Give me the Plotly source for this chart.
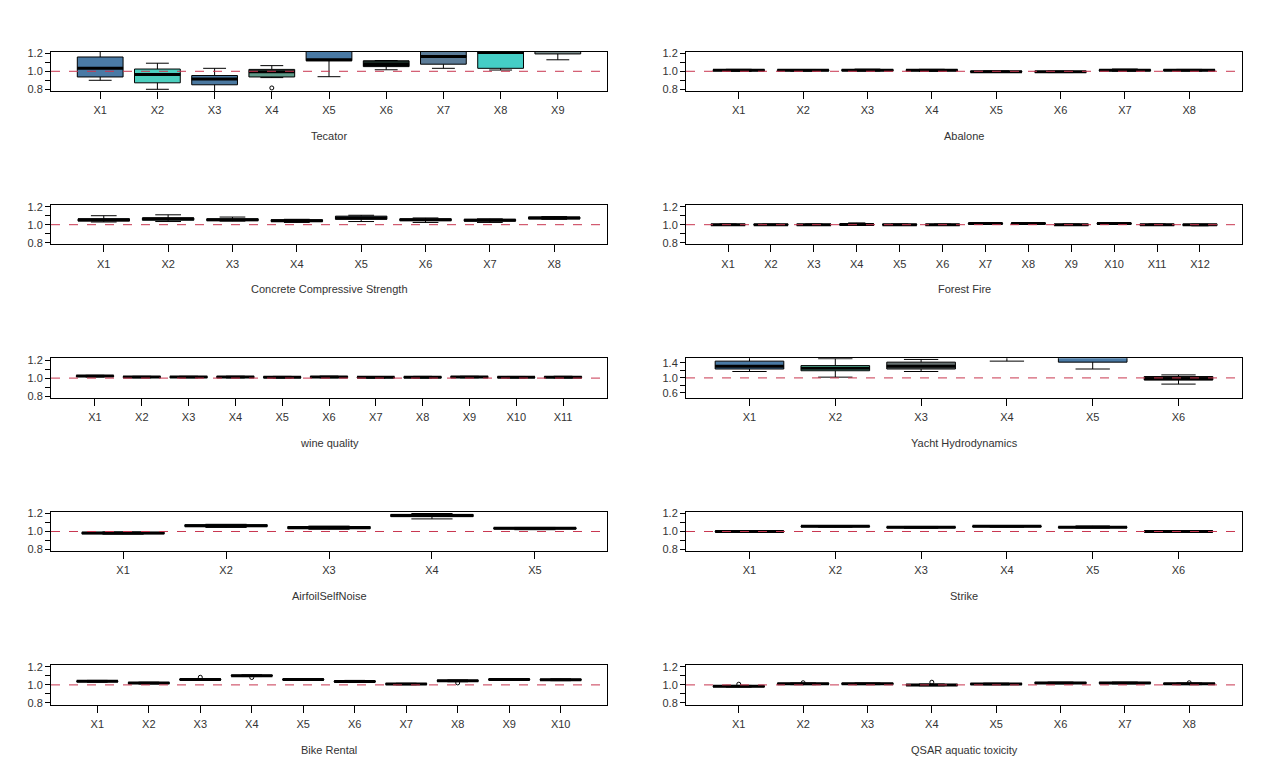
import plotly.graph_objects as go

# ---------------- data ----------------
TEC_LOW  = [0.900, 0.800, 0.760, 0.930, 0.940, 1.017, 1.033, 1.014, 1.128]
TEC_Q1   = [0.937, 0.872, 0.850, 0.937, 1.117, 1.052, 1.079, 1.033, 1.193]
TEC_MED  = [1.035, 0.964, 0.915, 0.995, 1.128, 1.075, 1.165, 1.210, 1.230]
TEC_Q3   = [1.159, 1.025, 0.953, 1.021, 1.350, 1.117, 1.250, 1.350, 1.300]
TEC_HIGH = [1.250, 1.090, 1.033, 1.063, 1.500, 1.120, 1.400, 1.500, 1.400]
TEC_OUT  = [(4, 0.815)]
TEC_COL  = ["#4A7AA5", "#4CCFBE", "#4A78A0", "#5E9A88", "#4A7AA5",
            "#1A2A24", "#5C7C98", "#45CEC6", "#7A8A8A"]

ABA_LOW  = [1.000, 1.002, 1.003, 1.000, 0.988, 0.986, 1.002, 1.003]
ABA_Q1   = [1.006, 1.006, 1.007, 1.006, 0.991, 0.990, 1.006, 1.007]
ABA_MED  = [1.012, 1.012, 1.012, 1.012, 0.996, 0.995, 1.012, 1.012]
ABA_Q3   = [1.017, 1.016, 1.018, 1.017, 1.001, 0.999, 1.017, 1.017]
ABA_HIGH = [1.022, 1.020, 1.024, 1.022, 1.005, 1.003, 1.025, 1.021]

CON_LOW  = [1.030, 1.035, 1.040, 1.025, 1.035, 1.025, 1.025, 1.060]
CON_Q1   = [1.040, 1.050, 1.045, 1.035, 1.060, 1.045, 1.040, 1.065]
CON_MED  = [1.055, 1.065, 1.055, 1.045, 1.075, 1.055, 1.050, 1.075]
CON_Q3   = [1.065, 1.075, 1.065, 1.055, 1.095, 1.065, 1.060, 1.085]
CON_HIGH = [1.100, 1.110, 1.085, 1.060, 1.105, 1.075, 1.065, 1.090]

FOR_LOW  = [0.992, 0.993, 0.992, 0.993, 0.993, 0.993, 1.003, 1.004, 0.992, 1.002, 0.992, 0.988]
FOR_Q1   = [0.996, 0.996, 0.995, 0.996, 0.996, 0.996, 1.007, 1.008, 0.995, 1.007, 0.995, 0.993]
FOR_MED  = [1.000, 1.000, 1.000, 1.001, 1.000, 1.000, 1.012, 1.013, 1.000, 1.012, 1.000, 0.998]
FOR_Q3   = [1.004, 1.004, 1.004, 1.005, 1.004, 1.004, 1.017, 1.018, 1.004, 1.016, 1.004, 1.003]
FOR_HIGH = [1.008, 1.007, 1.008, 1.020, 1.008, 1.007, 1.021, 1.022, 1.008, 1.020, 1.008, 1.006]

WIN_LOW  = [1.012, 1.003, 1.003, 1.002, 1.001, 1.003, 1.000, 1.001, 1.003, 1.002, 1.002]
WIN_Q1   = [1.017, 1.007, 1.007, 1.007, 1.005, 1.007, 1.004, 1.005, 1.007, 1.006, 1.006]
WIN_MED  = [1.022, 1.012, 1.012, 1.012, 1.010, 1.012, 1.008, 1.010, 1.012, 1.010, 1.010]
WIN_Q3   = [1.027, 1.016, 1.016, 1.017, 1.015, 1.017, 1.013, 1.015, 1.016, 1.014, 1.015]
WIN_HIGH = [1.031, 1.020, 1.020, 1.021, 1.019, 1.022, 1.017, 1.019, 1.020, 1.018, 1.020]

YAC_LOW  = [1.170, 1.020, 1.170, 1.445, 1.236, 0.836]
YAC_Q1   = [1.236, 1.190, 1.236, 1.600, 1.418, 0.945]
YAC_MED  = [1.310, 1.255, 1.310, 1.700, 1.600, 0.980]
YAC_Q3   = [1.445, 1.327, 1.418, 1.800, 1.800, 1.036]
YAC_HIGH = [1.600, 1.510, 1.490, 1.900, 1.900, 1.080]
YAC_COL  = ["#4A7AA5", "#5CC8A8", "#667070", "#4A7AA5", "#4A7AA5", "#3A1A1A"]

AIR_LOW  = [0.970, 1.045, 1.025, 1.140, 1.020]
AIR_Q1   = [0.975, 1.055, 1.030, 1.165, 1.028]
AIR_MED  = [0.982, 1.065, 1.045, 1.178, 1.035]
AIR_Q3   = [0.990, 1.075, 1.055, 1.190, 1.042]
AIR_HIGH = [0.995, 1.080, 1.060, 1.200, 1.045]

STR_LOW  = [0.990, 1.048, 1.036, 1.048, 1.038, 0.990]
STR_Q1   = [0.995, 1.052, 1.041, 1.052, 1.042, 0.995]
STR_MED  = [1.000, 1.057, 1.047, 1.057, 1.047, 1.000]
STR_Q3   = [1.006, 1.062, 1.052, 1.062, 1.052, 1.006]
STR_HIGH = [1.010, 1.066, 1.056, 1.066, 1.062, 1.010]

BIK_LOW  = [1.030, 1.010, 1.050, 1.093, 1.050, 1.027, 1.002, 1.035, 1.050, 1.047]
BIK_Q1   = [1.035, 1.015, 1.055, 1.098, 1.055, 1.032, 1.006, 1.040, 1.055, 1.052]
BIK_MED  = [1.040, 1.020, 1.060, 1.103, 1.060, 1.038, 1.010, 1.045, 1.060, 1.058]
BIK_Q3   = [1.045, 1.026, 1.065, 1.108, 1.065, 1.044, 1.014, 1.050, 1.065, 1.063]
BIK_HIGH = [1.050, 1.030, 1.070, 1.112, 1.070, 1.050, 1.018, 1.055, 1.070, 1.068]
BIK_OUT  = [(3, 1.085), (4, 1.082), (8, 1.022)]

QSA_LOW  = [0.976, 1.003, 1.003, 0.990, 1.001, 1.012, 1.012, 1.003]
QSA_Q1   = [0.980, 1.007, 1.007, 0.995, 1.005, 1.017, 1.017, 1.007]
QSA_MED  = [0.985, 1.012, 1.012, 1.000, 1.010, 1.022, 1.022, 1.012]
QSA_Q3   = [0.990, 1.017, 1.017, 1.005, 1.015, 1.027, 1.027, 1.017]
QSA_HIGH = [0.994, 1.021, 1.021, 1.010, 1.019, 1.031, 1.031, 1.021]
QSA_OUT  = [(1, 1.008), (2, 1.024), (4, 1.030), (8, 1.024)]

DEFAULT_COL = ["#4A7AA5", "#4CCFBE", "#5E9A88", "#1A2A24", "#5C7C98", "#7A8A8A"]

STD_RANGE = (0.78, 1.22)
STD_TICKS = [0.8, 0.9, 1.0, 1.1, 1.2]
STD_TEXT = ["0.8", "", "1.0", "", "1.2"]
YAC_RANGE = (0.47, 1.52)
YAC_TICKS = [0.6, 0.8, 1.0, 1.2, 1.4]
YAC_TEXT = ["0.6", "", "1.0", "", "1.4"]

PANELS = [
    ("Tecator", TEC_LOW, TEC_Q1, TEC_MED, TEC_Q3, TEC_HIGH, TEC_COL, TEC_OUT, STD_RANGE, STD_TICKS, STD_TEXT),
    ("Abalone", ABA_LOW, ABA_Q1, ABA_MED, ABA_Q3, ABA_HIGH, None, [], STD_RANGE, STD_TICKS, STD_TEXT),
    ("Concrete Compressive Strength", CON_LOW, CON_Q1, CON_MED, CON_Q3, CON_HIGH, None, [], STD_RANGE, STD_TICKS, STD_TEXT),
    ("Forest Fire", FOR_LOW, FOR_Q1, FOR_MED, FOR_Q3, FOR_HIGH, None, [], STD_RANGE, STD_TICKS, STD_TEXT),
    ("wine quality", WIN_LOW, WIN_Q1, WIN_MED, WIN_Q3, WIN_HIGH, None, [], STD_RANGE, STD_TICKS, STD_TEXT),
    ("Yacht Hydrodynamics", YAC_LOW, YAC_Q1, YAC_MED, YAC_Q3, YAC_HIGH, YAC_COL, [], YAC_RANGE, YAC_TICKS, YAC_TEXT),
    ("AirfoilSelfNoise", AIR_LOW, AIR_Q1, AIR_MED, AIR_Q3, AIR_HIGH, None, [], STD_RANGE, STD_TICKS, STD_TEXT),
    ("Strike", STR_LOW, STR_Q1, STR_MED, STR_Q3, STR_HIGH, None, [], STD_RANGE, STD_TICKS, STD_TEXT),
    ("Bike Rental", BIK_LOW, BIK_Q1, BIK_MED, BIK_Q3, BIK_HIGH, None, BIK_OUT, STD_RANGE, STD_TICKS, STD_TEXT),
    ("QSAR aquatic toxicity", QSA_LOW, QSA_Q1, QSA_MED, QSA_Q3, QSA_HIGH, None, QSA_OUT, STD_RANGE, STD_TICKS, STD_TEXT),
]

# ---------------- layout geometry ----------------
W, H = 1269, 775
COL_X = [(51, 607), (686, 1242)]
ROW_TOP0, ROW_H, ROW_STEP = 48, 40, 155
FONT = "Liberation Sans, Arial, sans-serif"
TXT = "#333333"

fig = go.Figure()
layout = {}
annotations = []
shapes = []

for k, (title, low, q1, med, q3, high, cols, outs, yr, yt, ytt) in enumerate(PANELS):
    row, col = divmod(k, 2)
    ax = k + 1
    xn = "x" if ax == 1 else f"x{ax}"
    yn = "y" if ax == 1 else f"y{ax}"
    n = len(med)
    xs = list(range(1, n + 1))
    cols = cols if cols is not None else [DEFAULT_COL[i % len(DEFAULT_COL)] for i in range(n)]

    for i in range(n):
        fig.add_trace(go.Box(
            x=[xs[i]], q1=[q1[i]], median=[med[i]], q3=[q3[i]],
            lowerfence=[low[i]], upperfence=[high[i]],
            width=0.8, whiskerwidth=0.5, fillcolor=cols[i],
            line=dict(color="black", width=1),
            boxpoints=False, showlegend=False, hoverinfo="skip",
            xaxis=xn, yaxis=yn))

    mx, my = [], []
    for i in range(n):
        mx += [xs[i] - 0.4, xs[i] + 0.4, None]
        my += [med[i], med[i], None]
    fig.add_trace(go.Scatter(x=mx, y=my, mode="lines",
                             line=dict(color="black", width=3),
                             showlegend=False, hoverinfo="skip",
                             xaxis=xn, yaxis=yn))
    if outs:
        fig.add_trace(go.Scatter(x=[o[0] for o in outs], y=[o[1] for o in outs],
                                 mode="markers",
                                 marker=dict(symbol="circle-open", size=4,
                                             color="black", line=dict(width=1)),
                                 showlegend=False, hoverinfo="skip",
                                 xaxis=xn, yaxis=yn))

    x0p, x1p = COL_X[col]
    top = ROW_TOP0 + ROW_STEP * row
    bot = top + ROW_H
    ext = 0.04 * n
    layout["xaxis" if ax == 1 else f"xaxis{ax}"] = dict(
        domain=[x0p / W, x1p / W], anchor=yn,
        range=[0.5 - ext, n + 0.5 + ext],
        tickvals=xs, ticktext=[f"X{i}" for i in xs],
        ticks="outside", ticklen=7, tickcolor="black", tickwidth=1,
        ticklabelstandoff=2,
        showline=True, mirror=True, linecolor="black", linewidth=1,
        showgrid=False, zeroline=False,
        tickfont=dict(family=FONT, size=11, color=TXT))
    layout["yaxis" if ax == 1 else f"yaxis{ax}"] = dict(
        domain=[1 - bot / H, 1 - top / H], anchor=xn,
        range=list(yr), tickvals=yt, ticktext=ytt,
        ticks="outside", ticklen=5, tickcolor="black", tickwidth=1,
        showline=True, mirror=True, linecolor="black", linewidth=1,
        showgrid=False, zeroline=False,
        tickfont=dict(family=FONT, size=11, color=TXT))
    annotations.append(dict(
        text=title, x=0.5, xref=f"{xn} domain", y=0, yref=f"{yn} domain",
        xanchor="center", yanchor="middle", yshift=-45, showarrow=False,
        font=dict(family=FONT, size=11, color=TXT)))
    shapes.append(dict(
        type="line", xref=f"{xn} domain", x0=0, x1=1, yref=yn, y0=1, y1=1,
        line=dict(color="#C8364F", width=1, dash="dash"), layer="above"))

fig.update_layout(
    width=W, height=H, margin=dict(l=0, r=0, t=0, b=0),
    paper_bgcolor="white", plot_bgcolor="white",
    annotations=annotations, shapes=shapes,
    font=dict(family=FONT, size=11, color=TXT),
    **layout)

fig.write_html("out.html", config={"displayModeBar": False},
               post_script="document.body.style.margin='0';document.body.style.overflow='hidden';")
